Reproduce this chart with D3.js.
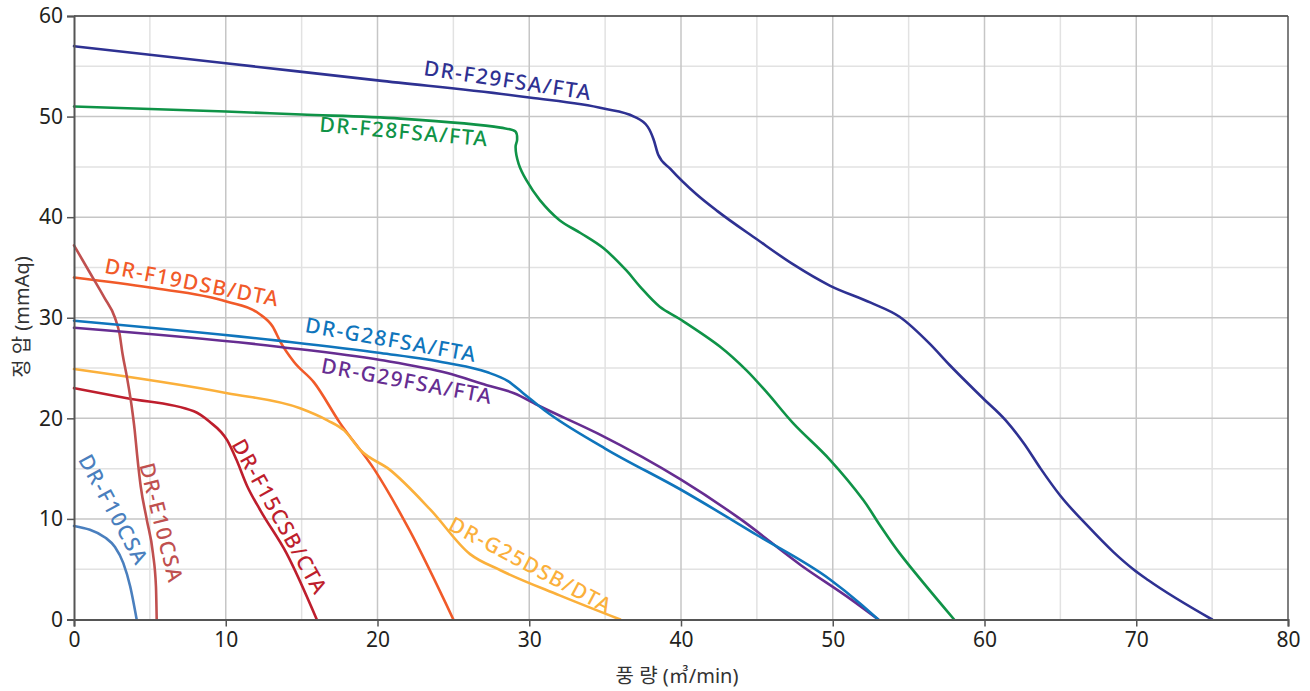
<!DOCTYPE html>
<html>
<head>
<meta charset="utf-8">
<script src="https://cdn.jsdelivr.net/npm/d3@7"></script>
<style>
  body { margin: 0; background: #fff; }
  svg { display: block; font-family: "Noto Sans", "Noto Sans CJK KR", sans-serif; }
</style>
</head>
<body>
<div id="chart"></div>
<script>
// 풍량(㎥/min) - 정압(mmAq) 곡선 데이터
const xTicks = [0, 10, 20, 30, 40, 50, 60, 70, 80];
const yTicks = [0, 10, 20, 30, 40, 50, 60];

const f29 = [[0, 57], [10, 55.3], [20, 53.6], [30, 51.9], [34.9, 50.8], [36.9, 50.0],
  [37.8, 49.0], [38.2, 47.7], [38.5, 46.2], [39.3, 44.8], [41.0, 42.3], [42.4, 40.6], [45.0, 37.8],
  [47.4, 35.3], [49.8, 33.2], [52.5, 31.5], [54.4, 30.1], [56.4, 27.4], [57.7, 25.3], [59.9, 22.0],
  [61.4, 19.8], [62.6, 17.5], [63.7, 15.0], [65.0, 12.3], [66.8, 9.3], [68.5, 6.7], [69.8, 5.0],
  [70.8, 3.9], [75, 0]];
const f28 = [[0, 51], [10, 50.5], [15, 50.2], [21.5, 49.8], [28.1, 48.9], [29.1, 48.5], [29.2, 47.7],
  [29.1, 47.0], [29.3, 45.3], [29.8, 43.7], [30.7, 41.7], [32.0, 39.7], [33.4, 38.4], [34.9, 36.9],
  [36.4, 34.7], [37.3, 33.1], [38.6, 31.1], [40.0, 29.8], [42.6, 27.1], [44.3, 24.8], [45.7, 22.5],
  [47.4, 19.5], [49.8, 15.9], [52.0, 11.9], [53.1, 9.4], [54.4, 6.6], [58, 0]];
const f19 = [[0, 34.0], [5, 33.0], [10.1, 31.6], [12.2, 30.4], [13.1, 29.1], [13.6, 27.6], [14.5, 25.6],
  [15.8, 23.6], [17.5, 19.6], [19.8, 14.9], [22.1, 8.9], [25, 0]];
const g28 = [[0, 29.7], [13.6, 27.7], [20.2, 26.5], [24.6, 25.5], [27.2, 24.6], [28.6, 23.7],
  [29.6, 22.5], [31, 20.8], [35, 17.0], [40, 12.9], [45, 8.4], [49.8, 4.0], [51.8, 1.6], [53, 0]];
const g29 = [[0, 29.0], [13.6, 27.1], [20.2, 25.8], [24.6, 24.5], [27.2, 23.3], [29.0, 22.5],
  [30.7, 21.2], [34.5, 18.5], [40, 13.9], [43.9, 10.0], [47.9, 5.4], [51.2, 2.0], [53, 0]];
const g25 = [[0, 24.9], [10.1, 22.5], [14.9, 21.0], [16.7, 19.8], [17.8, 18.8], [18.9, 16.8],
  [20.8, 14.9], [23.5, 10.9], [26.1, 6.5], [28.1, 4.9], [32, 2.4], [36, 0]];
const f15 = [[0, 23.0], [3.5, 22.0], [7.9, 20.7], [8.9, 19.7], [10.1, 17.8], [10.7, 15.9],
  [11.4, 13.3], [12.3, 10.8], [14.0, 6.6], [16, 0]];
const e10 = [[0, 37.2], [1.0, 34.6], [2.0, 32.0], [2.7, 30.0], [3.0, 28.4], [3.2, 26.4], [3.5, 24.0],
  [3.8, 21.2], [4.0, 18.8], [4.15, 16.5], [4.4, 13.2], [4.8, 9.9], [5.2, 6.6], [5.4, 3.3], [5.45, 0]];
const f10 = [[0, 9.3], [2.1, 8.1], [2.7, 7.2], [3.25, 5.6], [3.7, 3.3], [4.13, 0]];

const series = [
  { name: "DR-F29FSA/FTA", pts: f29, color: "#2e3192" },
  { name: "DR-F28FSA/FTA", pts: f28, color: "#0f9347", hook: true },
  { name: "DR-F19DSB/DTA", pts: f19, color: "#f15a29" },
  { name: "DR-G25DSB/DTA", pts: g25, color: "#fbb03b" },
  { name: "DR-F15CSB/CTA", pts: f15, color: "#be1e2d" },
  { name: "DR-E10CSA", pts: e10, color: "#c0504f" },
  { name: "DR-F10CSA", pts: f10, color: "#4a7fbe" },
  { name: "DR-G29FSA/FTA", pts: g29, color: "#662d91" },
  { name: "DR-G28FSA/FTA", pts: g28, color: "#0f75bc" }
];

// 라벨 위치 (데이터 좌표) 와 회전각
const labels = [
  { name: "DR-F29FSA/FTA", x: 28.6, y: 53.6, angle: 8.5, color: "#2e3192" },
  { name: "DR-F28FSA/FTA", x: 21.75, y: 48.5, angle: 5, color: "#0f9347" },
  { name: "DR-F19DSB/DTA", x: 7.8, y: 33.5, angle: 11, color: "#f15a29" },
  { name: "DR-G28FSA/FTA", x: 20.9, y: 27.8, angle: 10, color: "#0f75bc" },
  { name: "DR-G29FSA/FTA", x: 21.95, y: 23.7, angle: 10.5, color: "#662d91" },
  { name: "DR-G25DSB/DTA", x: 30.1, y: 5.4, angle: 28, color: "#fbb03b" },
  { name: "DR-F15CSB/CTA", x: 13.55, y: 10.2, angle: 61, color: "#be1e2d" },
  { name: "DR-E10CSA", x: 5.75, y: 9.6, angle: 76, color: "#c0504f" },
  { name: "DR-F10CSA", x: 2.6, y: 10.9, angle: 61.5, color: "#4a7fbe" }
];

const width = 1310;
const height = 691;
const margin = { top: 16, right: 22, bottom: 71.5, left: 74 };
const w = width - margin.left - margin.right;
const h = height - margin.top - margin.bottom;

const svg = d3.select("#chart").append("svg")
  .attr("width", width)
  .attr("height", height);

const g = svg.append("g").attr("transform", `translate(${margin.left},${margin.top})`);

const x = d3.scaleLinear().domain([0, 80]).range([0, w]);
const y = d3.scaleLinear().domain([0, 60]).range([h, 0]);

// 보조 격자 (5 단위)
const minorX = d3.range(5, 80, 10);
const minorY = d3.range(5, 60, 10);
g.append("g").selectAll("line").data(minorX).enter().append("line")
  .attr("x1", d => x(d)).attr("x2", d => x(d)).attr("y1", 0).attr("y2", h)
  .attr("stroke", "#e2e2e2").attr("stroke-width", 1.5);
g.append("g").selectAll("line").data(minorY).enter().append("line")
  .attr("x1", 0).attr("x2", w).attr("y1", d => y(d)).attr("y2", d => y(d))
  .attr("stroke", "#e2e2e2").attr("stroke-width", 1.5);

// 주 격자
g.append("g").selectAll("line").data(xTicks.slice(1, -1)).enter().append("line")
  .attr("x1", d => x(d)).attr("x2", d => x(d)).attr("y1", 0).attr("y2", h)
  .attr("stroke", "#c6c6c6").attr("stroke-width", 1.5);
g.append("g").selectAll("line").data(yTicks.slice(1, -1)).enter().append("line")
  .attr("x1", 0).attr("x2", w).attr("y1", d => y(d)).attr("y2", d => y(d))
  .attr("stroke", "#c6c6c6").attr("stroke-width", 1.5);

// 테두리 (위, 오른쪽)
g.append("line").attr("x1", 0).attr("x2", w).attr("y1", 0).attr("y2", 0)
  .attr("stroke", "#333").attr("stroke-width", 1.5);
g.append("line").attr("x1", w).attr("x2", w).attr("y1", 0).attr("y2", h)
  .attr("stroke", "#555").attr("stroke-width", 1.5);

// 곡선
const smooth = d3.line()
  .x(d => x(d[0]))
  .y(d => y(d[1]))
  .curve(d3.curveMonotoneX);
const hooked = d3.line()
  .x(d => x(d[0]))
  .y(d => y(d[1]))
  .curve(d3.curveCatmullRom.alpha(0.5));

g.append("g").selectAll("path").data(series).enter().append("path")
  .attr("d", d => (d.hook ? hooked : smooth)(d.pts))
  .attr("fill", "none")
  .attr("stroke", d => d.color)
  .attr("stroke-width", 2.6)
  .attr("stroke-linejoin", "round")
  .attr("stroke-linecap", "round");

// 축
const xAxis = g.append("g")
  .attr("transform", `translate(0,${h})`)
  .call(d3.axisBottom(x).tickValues(xTicks).tickSize(7).tickPadding(6));
const yAxis = g.append("g")
  .call(d3.axisLeft(y).tickValues(yTicks).tickSize(7).tickPadding(4));

[xAxis, yAxis].forEach(a => {
  a.select(".domain").attr("stroke", "#555").attr("stroke-width", 2);
  a.selectAll(".tick line").attr("stroke", "#555").attr("stroke-width", 1.5);
  a.selectAll(".tick text")
    .attr("fill", "#231f20")
    .style("font-size", "21px")
    .style("font-family", "'Noto Sans', 'Noto Sans CJK KR', sans-serif");
});

// 축 제목
svg.append("text")
  .attr("x", 677).attr("y", 683)
  .attr("text-anchor", "middle")
  .attr("fill", "#333")
  .style("font-size", "20px")
  .text("풍 량 (㎥/min)");

svg.append("text")
  .attr("transform", "translate(29,317) rotate(-90)")
  .attr("text-anchor", "middle")
  .attr("fill", "#333")
  .style("font-size", "20px")
  .text("정 압 (mmAq)");

// 곡선 라벨
g.append("g").selectAll("text").data(labels).enter().append("text")
  .attr("transform", d => `translate(${x(d.x)},${y(d.y)}) rotate(${d.angle})`)
  .attr("text-anchor", "middle")
  .attr("dy", "0.35em")
  .attr("fill", d => d.color)
  .style("font-size", "21px")
  .style("font-weight", 500)
  .style("letter-spacing", "1.5px")
  .text(d => d.name);
</script>
</body>
</html>
